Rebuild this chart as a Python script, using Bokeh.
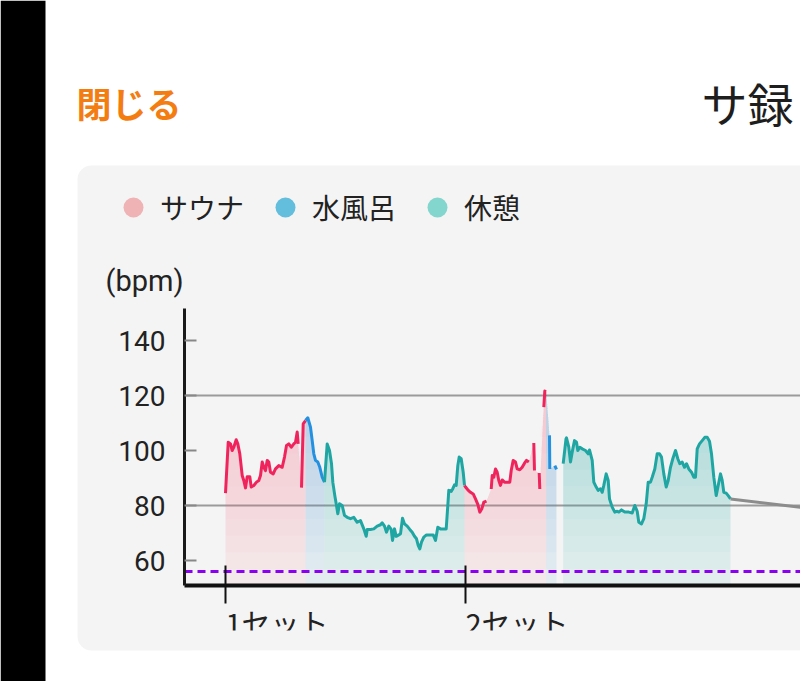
import numpy as np
from bokeh.plotting import figure
from bokeh.models import (Range1d, FixedTicker, BoxAnnotation, Label,
                          Legend, LegendItem)
from bokeh.embed import file_html
from bokeh.resources import INLINE

nan = float("nan")

# ---------------- texts ----------------
close_text = "閉じる"
title_text = "サ録"
phase_names = ["サウナ", "水風呂", "休憩"]
set_labels = ["1セット", "2セット"]
y_unit = "(bpm)"
y_ticks = [60, 80, 100, 120, 140]
grid_levels = [80, 120]
resting_hr = 56

# ---------------- data: time (min) / heart rate (bpm) ----------------
sauna1_t = [0.0, 0.27, 0.5, 0.67, 0.83, 1.07, 1.23, 1.43, 1.67, 1.83, 2.0, 2.17, 2.43,
            2.57, 2.83, 3.1, 3.33, 3.5, 3.67, 3.83, 4.0, 4.17, 4.33, 4.5, 4.77, 5.0,
            5.33, 5.67, 5.9, 6.1, 6.33, 6.57, 6.83, 7.0, 7.17, 7.27, 7.4, 7.6, 7.77, 8.0]
sauna1_bpm = [84.5, 103, 102.4, 100, 101.2, 103.9, 102.4, 98.8, 90.9, 89.1, 86.4, 90.5, 90.5,
              86.7, 87.3, 88.5, 89.1, 90.9, 95.8, 93.9, 92.7, 96.4, 95.8, 92.1, 91.5, 93.3,
              94.5, 93.9, 97.6, 101.8, 102.4, 101.2, 102.4, 103, 106.7, 102.4, nan, 86.5, 109.7, 110.9]

water1_t = [8.23, 8.5, 8.67, 8.83, 9.0, 9.23, 9.43, 9.67, 9.9]
water1_bpm = [111.9, 108.5, 103.6, 98.8, 96.4, 95.8, 93.9, 90.3, 88.5]

rest1_t = [10.17, 10.4, 10.6, 10.73, 10.93, 11.07, 11.23, 11.4, 11.67, 11.9, 12.17, 12.5,
           12.83, 13.17, 13.5, 13.83, 14.07, 14.17, 14.5, 14.83, 15.17, 15.5, 15.67, 15.9,
           16.1, 16.33, 16.57, 16.7, 16.9, 17.07, 17.33, 17.5, 17.7, 17.9, 18.17, 18.43,
           18.67, 18.9, 19.1, 19.27, 19.43, 19.6, 19.83, 20.1, 20.5, 20.77, 21.0, 21.23,
           21.5, 21.83, 22.07, 22.23, 22.33, 22.57, 22.73, 22.9, 23.07, 23.23, 23.37,
           23.57, 23.77, 23.9]
rest1_bpm = [102.4, 100, 95.2, 88.5, 83.6, 80.6, 77, 80.6, 80, 76.4, 75.7, 75.2,
             75.7, 73.9, 74.5, 71.5, 68.8, 71.3, 71.3, 71.5, 72.5, 73, 73.7, 72.5,
             70.3, 72.5, 71.3, 67.3, 71.5, 68.8, 69.3, 69.7, 75.4, 73.3, 72.5, 71.3,
             70.3, 68.8, 67.9, 65.5, 64.2, 66.7, 68.5, 69.3, 69.3, 69.3, 67.3, 72.1,
             71.5, 71.5, 71.5, 80, 85.5, 85.1, 86.1, 87.5, 87.3, 94.5, 97.6,
             97, 92.1, 87.3]

sauna2_t = [24.0, 24.23, 24.5, 24.77, 25.0, 25.23, 25.43, 25.63, 25.83, 26.1, 26.3,
            26.57, 26.67, 26.83, 27.0, 27.17, 27.33, 27.5, 27.67, 27.9, 28.17, 28.43,
            28.57, 28.77, 29.0, 29.17, 29.43, 29.67, 29.9, 30.1, 30.33, 30.6,
            30.83, 30.9, 31.1, 31.37, 31.43, 31.6, 31.83, 31.93, 32.07]
sauna2_bpm = [86.7, 85.7, 84.8, 84.2, 82.4, 80.4, 77.6, 78.8, 81.2, 81.6, nan,
              86, 90.9, 90.3, 93.3, 92.1, 89.1, 87.3, 89.3, 88.5, 88.5, 88.5,
              92.7, 96.4, 95.8, 93.3, 93, 93.9, 95.4, 96.4, 95.8, nan,
              102.7, 92.7, nan, 91.8, 86, nan, 115.8, 121.6, 121.5]

water2_t = [32.4, 32.43, 32.6, 32.93, 33.1]
water2_bpm = [105.5, 93.3, nan, 94.5, 93.1]

rest2_t = [33.77, 34.05, 34.1, 34.33, 34.5, 34.67, 34.9, 35.1, 35.23, 35.43, 35.67, 36.0,
           36.27, 36.4, 36.67, 36.83, 37.07, 37.27, 37.5, 37.67, 37.83, 38.07, 38.27, 38.4,
           38.67, 38.93, 39.17, 39.33, 39.6, 39.93, 40.33, 40.67, 40.93, 41.17, 41.33, 41.6,
           41.83, 42.07, 42.27, 42.5, 42.67, 42.93, 43.17, 43.4, 43.6, 43.83, 44.07, 44.27,
           44.5, 44.73, 45.0, 45.23, 45.43, 45.67, 45.9, 46.1, 46.33, 46.6, 46.83, 47.0,
           47.17, 47.4, 47.67, 47.93, 48.17, 48.4, 48.6, 48.83, 49.07, 49.27, 49.5, 49.67,
           49.83, 50.07, 50.27, 50.5]
rest2_bpm = [95.2, 104.2, 104.6, 101.2, 95.8, 99.4, 103.6, 103, 100, 101.2, 100.6, 100,
             98.8, 100.2, 96.4, 88.5, 86.7, 85.5, 86.1, 84.8, 87.3, 91.5, 89.1, 82.4,
             79.4, 77.6, 77.9, 77.6, 78.4, 77.6, 77.6, 77.3, 80, 77.9, 73.9, 73.3,
             75.2, 80.6, 88.5, 88.5, 90.3, 93.3, 98.8, 98.8, 97.6, 91.5, 86.7, 89.1,
             93.9, 97, 100, 97, 95.2, 95.8, 93.9, 95.2, 93.3, 92.1, 90.3, 90.3,
             100.6, 102.4, 103.6, 104.8, 104.8, 103.4, 98.8, 90.3, 83.6, 87.3, 91.5, 89.1,
             84.8, 84.5, 83.6, 82.4]

next_t = [60.0]
next_bpm = [78.2]

# ---------------- styles / geometry ----------------
PANEL = "#f4f4f4"
line_colors = {"sauna": "#f0245c", "water": "#2490e0", "rest": "#1fa6a3"}
fill_colors = {"sauna": "#f07880", "water": "#3ca0d2", "rest": "#28b4aa"}
legend_colors = ["#efb2b5", "#63bddc", "#82d6cd"]
JP = "Noto Sans CJK JP"

W, H = 800, 681
# whole canvas is the frame; the chart's own area is bounded by the axes
X_VIEW = (-22.5, 57.5)          # minutes shown across the page
Y_VIEW = (16.0, 263.64)         # bpm shown down the page
x_lo = -4.1                     # left end of the time axis
y_lo, y_hi = 50.91, 151.64      # bpm span of the value axis

p = figure(width=W, height=H, x_range=Range1d(*X_VIEW), y_range=Range1d(*Y_VIEW),
           output_backend="svg", toolbar_location=None,
           min_border_left=0, min_border_right=0, min_border_top=0, min_border_bottom=0,
           background_fill_color="white", border_fill_color="white", outline_line_color=None)
p.xgrid.visible = False
p.ygrid.visible = False

# page decorations
def canvas_box(l, r, t, b, color, level, radius=0):
    return BoxAnnotation(left=l, right=r, top=t, bottom=b, left_units="canvas",
                         right_units="canvas", top_units="canvas", bottom_units="canvas",
                         fill_color=color, fill_alpha=1, line_color=None,
                         border_radius=radius, level=level)

p.add_layout(canvas_box(0, 45, 0, H, "black", "image"))
p.add_layout(canvas_box(77, W + 40, 165, 650, PANEL, "image", 14))

p.add_layout(Label(x=76, y=102, x_units="canvas", y_units="canvas", text=close_text,
                   text_font=JP, text_font_size="35px", text_font_style="bold",
                   text_color="#f47d12", text_baseline="middle"))
p.add_layout(Label(x=701, y=101, x_units="canvas", y_units="canvas", text=title_text,
                   text_font=JP, text_font_size="46px", text_color="#1e1e1e",
                   text_baseline="middle"))
p.add_layout(Label(x=105, y=280, x_units="canvas", y_units="canvas", text=y_unit,
                   text_font="Roboto", text_font_size="29px", text_color="#222222",
                   text_baseline="middle"))


def last_valid(t, v):
    for tt, vv in zip(reversed(t), reversed(v)):
        if vv == vv:
            return tt, vv


def chain(prev, t, v):
    if prev is None:
        return list(t), list(v)
    return [prev[0]] + list(t), [prev[1]] + list(v)


segments = [
    ("sauna", sauna1_t, sauna1_bpm, None, None),
    ("water", water1_t, water1_bpm, last_valid(sauna1_t, sauna1_bpm), last_valid(sauna1_t, sauna1_bpm)),
    ("rest", rest1_t, rest1_bpm, last_valid(water1_t, water1_bpm), last_valid(water1_t, water1_bpm)),
    ("sauna", sauna2_t, sauna2_bpm, last_valid(rest1_t, rest1_bpm), last_valid(rest1_t, rest1_bpm)),
    ("water", water2_t, water2_bpm, None, last_valid(sauna2_t, sauna2_bpm)),
    ("rest", rest2_t, rest2_bpm, None, None),
]

# grid lines (only at 80 and 120)
p.segment(x0=[x_lo] * len(grid_levels), x1=[X_VIEW[1]] * len(grid_levels),
          y0=grid_levels, y1=grid_levels, line_color="#9a9a9a", line_width=2)

# gradient-like fills
levels = [y_lo, 57, 63, 69, 75, 81, 87, 93, 99, 105]
alphas = [0.09] + [0.027] * 9
for kind, t, v, lprev, fprev in segments:
    ft, fv = chain(fprev, t, v)
    ft = np.array(ft, dtype=float)
    fv = np.array(fv, dtype=float)
    m = ~np.isnan(fv)
    ft, fv = ft[m], fv[m]
    for lev, a in zip(levels, alphas):
        if fv.max() <= lev:
            continue
        p.varea(x=ft, y1=np.full(len(ft), float(lev)), y2=np.maximum(fv, lev),
                fill_color=fill_colors[kind], fill_alpha=a)

# heart-rate lines
for kind, t, v, lprev, fprev in segments:
    lt, lv = chain(lprev, t, v)
    p.line(x=lt, y=lv, line_color=line_colors[kind], line_width=3, line_join="round")

ct, cv = chain(last_valid(rest2_t, rest2_bpm), next_t, next_bpm)
p.line(x=ct, y=cv, line_color="#8c8c8c", line_width=3)

# resting heart rate
p.segment(x0=[x_lo], x1=[X_VIEW[1]], y0=[resting_hr], y1=[resting_hr],
          line_color="#8a00f0", line_width=3, line_dash="8 5")

# axes (drawn at the chart's own corner)
ya = p.yaxis[0]
ya.fixed_location = x_lo
ya.bounds = (y_lo, y_hi)
ya.ticker = FixedTicker(ticks=y_ticks)
ya.axis_line_color = "#1a1a1a"
ya.axis_line_width = 3
ya.major_tick_in = 12
ya.major_tick_out = 0
ya.major_tick_line_color = "#888888"
ya.major_tick_line_width = 2
ya.minor_tick_line_color = None
ya.major_label_text_font = "Roboto"
ya.major_label_text_font_size = "28px"
ya.major_label_text_color = "#222222"
ya.major_label_standoff = 19

set_starts = [sauna1_t[0], sauna2_t[0]]
xa = p.xaxis[0]
xa.fixed_location = y_lo
xa.bounds = (x_lo, X_VIEW[1])
xa.ticker = FixedTicker(ticks=set_starts)
xa.major_label_overrides = {s: "" for s in set_starts}
xa.axis_line_color = "#111111"
xa.axis_line_width = 4
xa.major_tick_in = 20
xa.major_tick_out = 18
xa.major_tick_line_color = "#111111"
xa.major_tick_line_width = 2
xa.minor_tick_line_color = None

# set labels start at their tick
for s, lab in zip(set_starts, set_labels):
    p.add_layout(Label(x=s, y=621, x_units="data", y_units="canvas", text=lab,
                       text_font=JP, text_font_size="29px", text_color="#222222",
                       text_align="left", text_baseline="middle"))

# legend: markers use each phase's first sample, kept hidden on the chart
legend_src = [(sauna1_t, sauna1_bpm), (water1_t, water1_bpm), (rest1_t, rest1_bpm)]
items = []
for name, col, (tt, vv) in zip(phase_names, legend_colors, legend_src):
    r = p.scatter(x=[tt[0]], y=[vv[0]], marker="circle", size=20, fill_color=col,
                  line_color=None, visible=False)
    items.append(LegendItem(label=name, renderers=[r]))
legend = Legend(items=items, orientation="horizontal", location=(108, 449),
                glyph_width=50, glyph_height=50, label_standoff=2, spacing=16,
                padding=0, margin=0, border_line_color=None, background_fill_alpha=0,
                inactive_fill_alpha=0, click_policy="none",
                label_text_font=JP, label_text_font_size="28px", label_text_color="#222222")
p.add_layout(legend, "center")

# the chart view clips the bottom of the set labels
p.add_layout(canvas_box(190, W, 630, 650, PANEL, "overlay"))
p.add_layout(canvas_box(190, W, 650, H, "white", "overlay"))

open("out.html", "w").write(file_html(p, INLINE))
